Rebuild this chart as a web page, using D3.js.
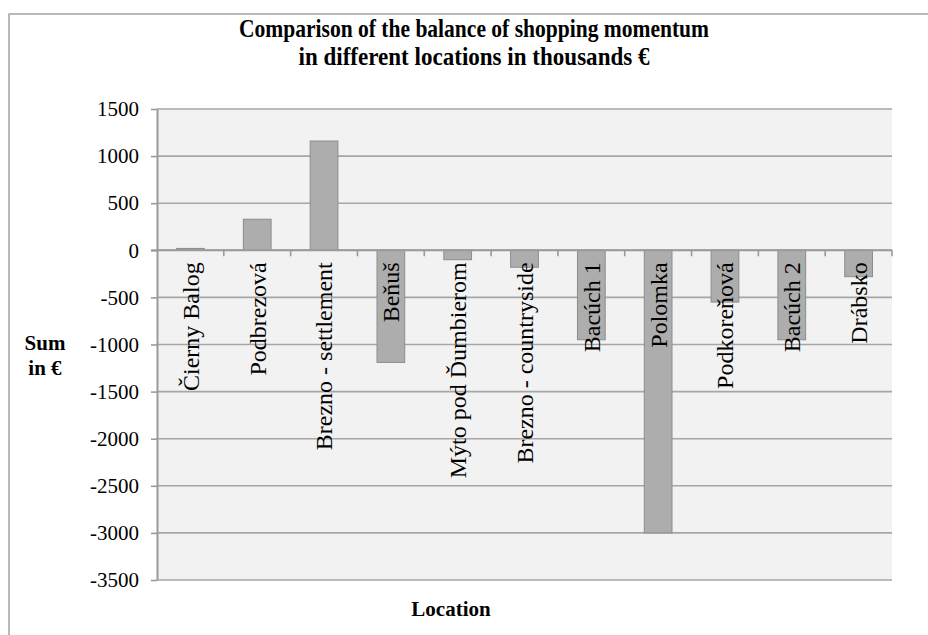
<!DOCTYPE html>
<html>
<head>
<meta charset="utf-8">
<script src="https://cdn.jsdelivr.net/npm/d3@7"></script>
<style>
  html, body { margin: 0; padding: 0; background: #fff; }
  svg { display: block; font-family: "Liberation Serif", "Times New Roman", serif; }
</style>
</head>
<body>
<svg id="chart" width="928" height="635"></svg>
<script>
// Balance of shopping momentum per location (thousands €)
const categories = [
  "Čierny Balog", "Podbrezová", "Brezno - settlement", "Beňuš",
  "Mýto pod Ďumbierom", "Brezno - countryside", "Bacúch 1", "Polomka",
  "Podkoreňová", "Bacúch 2", "Drábsko"
];
const values = [20, 330, 1160, -1190, -100, -180, -950, -3000, -550, -950, -280];
const yTickValues = [1500, 1000, 500, 0, -500, -1000, -1500, -2000, -2500, -3000, -3500];
const titleLines = [
  "Comparison of the balance of shopping momentum",
  "in different locations in thousands €"
];
const yTitleLines = ["Sum", "in €"];
const xTitle = "Location";

const svg = d3.select("#chart");
const W = 928, H = 635;
const plot = { left: 157, right: 892, top: 109, bottom: 580 };

const gridColor = "#a6a6a6";
const axisColor = "#9a9a9a";
const serif = "'Liberation Serif', 'Times New Roman', serif";

// outer chart frame (top and left edges visible)
svg.append("path")
  .attr("d", `M9,${H} L9,14 L${W},14`)
  .attr("fill", "none")
  .attr("stroke", "#a3a3a3")
  .attr("stroke-width", 1.5);

const x = d3.scaleBand()
  .domain(categories)
  .range([plot.left, plot.right])
  .paddingInner(0.585)
  .paddingOuter(0.2925);

const y = d3.scaleLinear()
  .domain([d3.min(yTickValues), d3.max(yTickValues)])
  .range([plot.bottom, plot.top]);

// plot background
svg.append("rect")
  .attr("x", plot.left)
  .attr("y", plot.top)
  .attr("width", plot.right - plot.left)
  .attr("height", plot.bottom - plot.top)
  .attr("fill", "#f2f2f2");

// horizontal gridlines
svg.append("g")
  .selectAll("line")
  .data(yTickValues)
  .join("line")
  .attr("x1", plot.left)
  .attr("x2", plot.right)
  .attr("y1", d => y(d))
  .attr("y2", d => y(d))
  .attr("stroke", gridColor)
  .attr("stroke-width", 1.6);

// y axis with plain integer tick labels (ASCII hyphen for negatives)
const plainInt = d => String(Math.round(d));
const yAxis = svg.append("g")
  .attr("transform", `translate(${plot.left},0)`)
  .call(d3.axisLeft(y).tickValues(yTickValues).tickFormat(plainInt)
    .tickSize(6).tickPadding(12).tickSizeOuter(0));
yAxis.attr("font-family", null).style("font-family", serif);
yAxis.select(".domain").attr("stroke", axisColor).attr("stroke-width", 2);
yAxis.selectAll(".tick line").attr("stroke", axisColor).attr("stroke-width", 1.6);
yAxis.selectAll(".tick text")
  .style("font-family", serif)
  .attr("font-size", 21)
  .attr("fill", "#000");

// bars
svg.append("g")
  .selectAll("rect")
  .data(values)
  .join("rect")
  .attr("x", (d, i) => x(categories[i]))
  .attr("width", x.bandwidth())
  .attr("y", d => y(Math.max(0, d)))
  .attr("height", d => Math.abs(y(d) - y(0)))
  .attr("fill", "#adadad")
  .attr("stroke", "#8c8c8c")
  .attr("stroke-width", 1);

// x axis along the zero line, ticks between categories
const boundaries = d3.range(categories.length + 1)
  .map(i => plot.left + i * x.step());
const xAxis = svg.append("g");
xAxis.append("line")
  .attr("x1", plot.left - 6)
  .attr("x2", plot.right)
  .attr("y1", y(0))
  .attr("y2", y(0))
  .attr("stroke", axisColor)
  .attr("stroke-width", 2);
xAxis.selectAll("line.tick")
  .data(boundaries.slice(1))
  .join("line")
  .attr("class", "tick")
  .attr("x1", d => d)
  .attr("x2", d => d)
  .attr("y1", y(0))
  .attr("y2", y(0) + 6)
  .attr("stroke", axisColor)
  .attr("stroke-width", 1.6);

// rotated category labels hanging below the zero line
svg.append("g")
  .selectAll("text")
  .data(categories)
  .join("text")
  .attr("transform", d => `translate(${x(d) + x.bandwidth() / 2},${y(0) + 12}) rotate(-90)`)
  .attr("text-anchor", "end")
  .attr("dy", "0.35em")
  .style("font-family", serif)
  .attr("font-size", 24)
  .attr("fill", "#000")
  .text(d => d);

// chart title
svg.append("g")
  .selectAll("text")
  .data(titleLines)
  .join("text")
  .attr("x", 474)
  .attr("y", (d, i) => 37 + i * 28)
  .attr("text-anchor", "middle")
  .style("font-family", serif)
  .attr("font-size", 25)
  .attr("font-weight", "bold")
  .attr("textLength", (d, i) => i === 0 ? 470 : 351)
  .attr("lengthAdjust", "spacingAndGlyphs")
  .attr("fill", "#000")
  .text(d => d);

// y axis title
svg.append("g")
  .selectAll("text")
  .data(yTitleLines)
  .join("text")
  .attr("x", 45)
  .attr("y", (d, i) => 350 + i * 25)
  .attr("text-anchor", "middle")
  .style("font-family", serif)
  .attr("font-size", 21)
  .attr("font-weight", "bold")
  .attr("fill", "#000")
  .text(d => d);

// x axis title
svg.append("text")
  .attr("x", 451)
  .attr("y", 616)
  .attr("text-anchor", "middle")
  .style("font-family", serif)
  .attr("font-size", 21)
  .attr("font-weight", "bold")
  .attr("fill", "#000")
  .text(xTitle);
</script>
</body>
</html>
